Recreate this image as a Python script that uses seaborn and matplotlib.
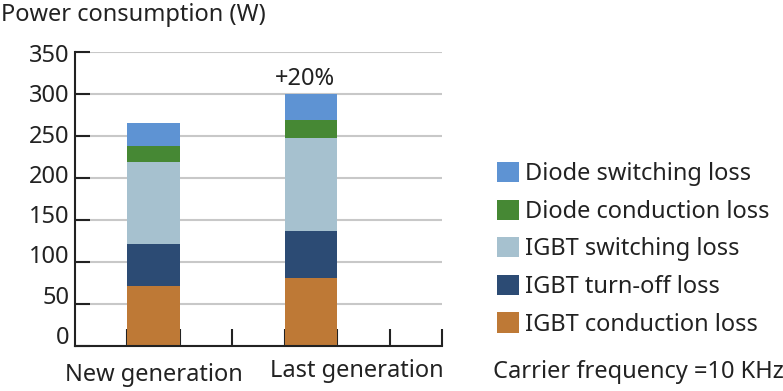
import matplotlib
matplotlib.use("Agg")
import matplotlib.pyplot as plt
import matplotlib.transforms as mtransforms
from matplotlib.patches import Patch
from matplotlib.ticker import FixedLocator
import numpy as np
import pandas as pd
import seaborn as sns

# ---- data ----
categories = ["New generation", "Last generation"]
series_names = ["IGBT conduction loss", "IGBT turn-off loss", "IGBT switching loss",
                "Diode conduction loss", "Diode switching loss"]
igbt_conduction = [71, 81]
igbt_turnoff = [50, 56]
igbt_switching = [98, 111]
diode_conduction = [19, 21]
diode_switching = [28, 31]
colors = ["#BE7936", "#2C4B74", "#A6C1CF", "#468834", "#5E93D3"]
yticks = [0, 50, 100, 150, 200, 250, 300, 350]
annotation = "+20%"
note = "Carrier frequency =10 KHz"
ylabel = "Power consumption (W)"

sns.set_theme(style="white")
plt.rcParams['font.family'] = ['Noto Sans', 'DejaVu Sans']
TXT = "#222222"
FS = 17

W, H = 783, 391
fig = plt.figure(figsize=(W / 100, H / 100), dpi=100)
ax = fig.add_axes([75 / W, 1 - 346 / H, (442 - 75) / W, (346 - 52) / H])

series = [igbt_conduction, igbt_turnoff, igbt_switching, diode_conduction, diode_switching]
cum = np.cumsum(np.array(series, dtype=float), axis=0)
for i in reversed(range(len(series))):
    df = pd.DataFrame({"category": categories, "value": cum[i]})
    sns.barplot(data=df, x="category", y="value", order=categories, color=colors[i],
                saturation=1, width=1 / 3, linewidth=0, errorbar=None, ax=ax)

ax.set_xlabel("")
ax.set_ylabel("")
ax.set_ylim(0, 350)
ax.set_xlim(-0.5, -0.5 + 7 / 3)
ax.set_yticks(yticks)
ax.set_yticklabels([str(v) for v in yticks])
ax.set_axisbelow(True)
ax.yaxis.grid(True, color="#C8C8C8", linewidth=1.5)
ax.xaxis.grid(False)
for s in ["top", "right"]:
    ax.spines[s].set_visible(False)
for s in ["left", "bottom"]:
    ax.spines[s].set_color(TXT)
    ax.spines[s].set_linewidth(1.5)

ax.tick_params(axis="y", left=True, direction="in", length=11, width=1.5, color=TXT,
               labelsize=FS, labelcolor=TXT, pad=4)
ax.set_xticks([0, 1])
ax.set_xticklabels(categories)
ax.tick_params(axis="x", which="major", bottom=True, length=0, pad=12, labelsize=FS, labelcolor=TXT)
ax.xaxis.set_minor_locator(FixedLocator([-0.5 + k / 3 for k in range(1, 8)]))
ax.tick_params(axis="x", which="minor", bottom=True, direction="in", length=12.5, width=1.5, color=TXT)

# label offsets as in reference
for lab, v in zip(ax.get_yticklabels(), yticks):
    dy = 12 * (350 - v) / 350 - 1
    lab.set_transform(lab.get_transform() + mtransforms.ScaledTranslation(0, dy / 100, fig.dpi_scale_trans))
xl = ax.get_xticklabels()
xl[1].set_transform(xl[1].get_transform() + mtransforms.ScaledTranslation(46 / 100, 4 / 100, fig.dpi_scale_trans))

ax.annotate(annotation, xy=(1, cum[-1][1]), xytext=(-6, 15), textcoords="offset pixels",
            ha="center", va="center", fontsize=FS, color=TXT)

handles = [Patch(facecolor=colors[i], edgecolor="none") for i in reversed(range(len(series)))]
labels = [series_names[i] for i in reversed(range(len(series)))]
fig.legend(handles, labels, loc="upper left", bbox_to_anchor=(497 / W, 1 - 162 / H),
           frameon=False, fontsize=FS, handlelength=0.93, handleheight=0.93,
           handletextpad=0.26, labelspacing=0.57, borderpad=0, borderaxespad=0,
           labelcolor=TXT)

fig.text(1 / W, 1 - 3 / H, ylabel, ha="left", va="top", fontsize=FS, color=TXT)
fig.text(493 / W, 1 - 372 / H, note, ha="left", va="center", fontsize=FS, color=TXT)

fig.savefig("out.png", dpi=100)
